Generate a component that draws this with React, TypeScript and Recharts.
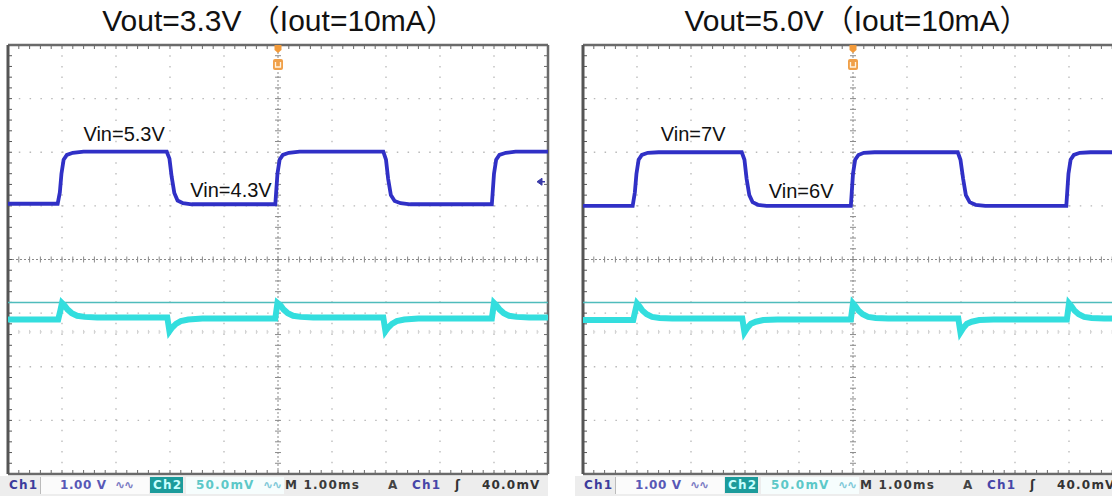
import React from 'react';
import { LineChart, Line, XAxis, YAxis, ReferenceLine, ReferenceDot } from 'recharts';

// screen divisions (10 x 8)
const divX = [0, 1, 2, 3, 4, 5, 6, 7, 8, 9, 10];
const divY = [-4, -3, -2, -1, 0, 1, 2, 3, 4];

// Ch1 (Vin step), in divisions
const ch1Left = [
  { t: 0, v: 1.04 }, { t: 0.92, v: 1.04 }, { t: 0.96, v: 1.25 }, { t: 0.99, v: 1.6 }, { t: 1.03, v: 1.86 },
  { t: 1.09, v: 1.95 }, { t: 1.2, v: 1.99 }, { t: 1.4, v: 2.01 }, { t: 2.94, v: 2.01 }, { t: 2.99, v: 1.88 },
  { t: 3.03, v: 1.55 }, { t: 3.08, v: 1.24 }, { t: 3.14, v: 1.1 }, { t: 3.24, v: 1.05 }, { t: 3.4, v: 1.03 },
  { t: 4.95, v: 1.03 }, { t: 4.99, v: 1.6 }, { t: 5.03, v: 1.86 }, { t: 5.09, v: 1.95 }, { t: 5.2, v: 1.99 },
  { t: 5.4, v: 2.01 }, { t: 6.95, v: 2.01 }, { t: 7.0, v: 1.86 }, { t: 7.04, v: 1.5 }, { t: 7.09, v: 1.2 },
  { t: 7.16, v: 1.09 }, { t: 7.27, v: 1.05 }, { t: 7.45, v: 1.03 }, { t: 8.96, v: 1.03 }, { t: 9.0, v: 1.6 },
  { t: 9.04, v: 1.86 }, { t: 9.1, v: 1.95 }, { t: 9.22, v: 1.99 }, { t: 9.4, v: 2.01 }, { t: 10, v: 2.01 },
];

// Ch2 (Vout ripple), in divisions
const ch2Left = [
  { t: 0, v: -1.12 }, { t: 0.93, v: -1.12 }, { t: 0.97, v: -0.95 }, { t: 1.0, v: -0.81 }, { t: 1.05, v: -0.86 },
  { t: 1.1, v: -0.93 }, { t: 1.18, v: -1.0 }, { t: 1.28, v: -1.05 }, { t: 1.42, v: -1.07 }, { t: 1.65, v: -1.08 },
  { t: 2.95, v: -1.08 }, { t: 2.99, v: -1.34 }, { t: 3.04, v: -1.27 }, { t: 3.11, v: -1.2 }, { t: 3.2, v: -1.15 },
  { t: 3.34, v: -1.12 }, { t: 3.6, v: -1.1 }, { t: 4.95, v: -1.1 }, { t: 4.99, v: -0.81 }, { t: 5.05, v: -0.86 },
  { t: 5.1, v: -0.93 }, { t: 5.18, v: -1.0 }, { t: 5.28, v: -1.05 }, { t: 5.42, v: -1.07 }, { t: 5.65, v: -1.08 },
  { t: 6.95, v: -1.08 }, { t: 6.99, v: -1.34 }, { t: 7.04, v: -1.27 }, { t: 7.11, v: -1.2 }, { t: 7.2, v: -1.15 },
  { t: 7.34, v: -1.12 }, { t: 7.6, v: -1.1 }, { t: 8.96, v: -1.1 }, { t: 9.0, v: -0.81 }, { t: 9.05, v: -0.86 },
  { t: 9.1, v: -0.93 }, { t: 9.18, v: -1.0 }, { t: 9.28, v: -1.05 }, { t: 9.42, v: -1.07 }, { t: 9.65, v: -1.08 },
  { t: 10, v: -1.08 },
];

const ch1Right = [
  { t: 0, v: 1.0 }, { t: 0.92, v: 1.0 }, { t: 0.96, v: 1.25 }, { t: 0.99, v: 1.6 }, { t: 1.03, v: 1.86 },
  { t: 1.09, v: 1.95 }, { t: 1.2, v: 1.99 }, { t: 1.4, v: 2.0 }, { t: 2.94, v: 2.0 }, { t: 2.99, v: 1.86 },
  { t: 3.03, v: 1.5 }, { t: 3.08, v: 1.2 }, { t: 3.14, v: 1.07 }, { t: 3.24, v: 1.02 }, { t: 3.4, v: 1.0 },
  { t: 4.96, v: 1.0 }, { t: 5.0, v: 1.6 }, { t: 5.04, v: 1.86 }, { t: 5.1, v: 1.95 }, { t: 5.2, v: 1.99 },
  { t: 5.4, v: 2.0 }, { t: 6.94, v: 2.0 }, { t: 6.99, v: 1.86 }, { t: 7.04, v: 1.5 }, { t: 7.09, v: 1.2 },
  { t: 7.16, v: 1.07 }, { t: 7.27, v: 1.02 }, { t: 7.45, v: 1.0 }, { t: 8.95, v: 1.0 }, { t: 8.99, v: 1.6 },
  { t: 9.03, v: 1.86 }, { t: 9.09, v: 1.95 }, { t: 9.2, v: 1.99 }, { t: 9.4, v: 2.0 }, { t: 10, v: 2.0 },
];

const ch2Right = [
  { t: 0, v: -1.13 }, { t: 0.93, v: -1.13 }, { t: 0.97, v: -0.95 }, { t: 1.0, v: -0.82 }, { t: 1.05, v: -0.88 },
  { t: 1.1, v: -0.95 }, { t: 1.18, v: -1.02 }, { t: 1.28, v: -1.07 }, { t: 1.42, v: -1.09 }, { t: 1.65, v: -1.1 },
  { t: 2.95, v: -1.1 }, { t: 2.99, v: -1.36 }, { t: 3.04, v: -1.28 }, { t: 3.11, v: -1.2 }, { t: 3.2, v: -1.16 },
  { t: 3.34, v: -1.13 }, { t: 3.6, v: -1.12 }, { t: 4.96, v: -1.12 }, { t: 5.0, v: -0.82 }, { t: 5.05, v: -0.88 },
  { t: 5.1, v: -0.95 }, { t: 5.18, v: -1.02 }, { t: 5.28, v: -1.07 }, { t: 5.42, v: -1.09 }, { t: 5.65, v: -1.1 },
  { t: 6.95, v: -1.1 }, { t: 6.99, v: -1.36 }, { t: 7.04, v: -1.28 }, { t: 7.11, v: -1.2 }, { t: 7.2, v: -1.16 },
  { t: 7.34, v: -1.13 }, { t: 7.6, v: -1.12 }, { t: 8.96, v: -1.12 }, { t: 9.0, v: -0.82 }, { t: 9.05, v: -0.88 },
  { t: 9.1, v: -0.95 }, { t: 9.18, v: -1.02 }, { t: 9.28, v: -1.07 }, { t: 9.42, v: -1.09 }, { t: 9.65, v: -1.1 },
  { t: 10, v: -1.1 },
];

const titles = ['Vout=3.3V （Iout=10mA）', 'Vout=5.0V（Iout=10mA）'];
const highLabels = ['Vin=5.3V', 'Vin=7V'];
const lowLabels = ['Vin=4.3V', 'Vin=6V'];
const statusTexts = ['Ch1', '1.00 V', '∿∿', 'Ch2', '50.0mV', '∿∿', 'M 1.00ms', 'A', 'Ch1', 'ʃ', '40.0mV'];
const statusX = [9, 60, 115, 153, 196, 263, 285, 388, 412, 455, 482];
const statusColors = ['#3c3c9c', '#5858b6', '#7c7cc4', '#c8ffff', '#5cc8c8', '#7fc8d8', '#3a3a3a', '#444', '#4646a8', '#333', '#333'];

const SCOPE_W = 556;
const SCOPE_H = 496;
const SHIFT = 575;

// line with minor-division tick marks
const ruler = (count: number, before: number, after: number, color: string, width: number, dash?: string) =>
  (p: any) => {
    const { x1, y1, x2, y2 } = p;
    const flat = Math.abs(y2 - y1) < 1;
    const marks: React.ReactNode[] = [];
    for (let i = 1; i < count; i++) {
      const x = x1 + ((x2 - x1) * i) / count;
      const y = y1 + ((y2 - y1) * i) / count;
      marks.push(flat
        ? <line key={i} x1={x} x2={x} y1={y - before} y2={y + after} />
        : <line key={i} x1={x - before} x2={x + after} y1={y} y2={y} />);
    }
    return (
      <g>
        <line x1={x1} y1={y1} x2={x2} y2={y2} stroke={color} strokeWidth={width} strokeDasharray={dash} />
        <g stroke={color} strokeWidth={1}>{marks}</g>
      </g>
    );
  };

const labelShape = (text: string) => (p: any) => (
  <text x={p.cx} y={p.cy} textAnchor="middle" dominantBaseline="central"
    fontFamily="'Liberation Sans', Arial, sans-serif" fontSize={20} fill="#111">{text}</text>
);

const triggerShape = (p: any) => (
  <g>
    <path d={`M${p.cx - 3.5},${p.cy} L${p.cx + 3.5},${p.cy} L${p.cx + 3.5},${p.cy + 5} L${p.cx},${p.cy + 8} L${p.cx - 3.5},${p.cy + 5} Z`} fill="#f29a3a" />
    <rect x={p.cx - 5} y={p.cy + 14} width={10} height={11} rx={2} fill="#f0a049" />
    <path d={`M${p.cx - 2.5},${p.cy + 17} L${p.cx - 2.5},${p.cy + 22} L${p.cx + 2.5},${p.cy + 22} L${p.cx + 2.5},${p.cy + 17}`} stroke="#fff3e0" strokeWidth={1.3} fill="none" />
  </g>
);

const ch1Marker = (p: any) => (
  <g fill="#3a3aa8" stroke="#3a3aa8">
    <path d={`M${p.cx - 11},${p.cy} L${p.cx - 6},${p.cy - 3.5} L${p.cx - 6},${p.cy + 3.5} Z`} />
    <line x1={p.cx - 6} x2={p.cx - 3} y1={p.cy} y2={p.cy} strokeWidth={1.5} />
  </g>
);

type ScopeProps = { ch1: { t: number; v: number }[]; ch2: { t: number; v: number }[]; hi: string; lo: string; hiAt: number[]; loAt: number[] };

const Scope = ({ ch1, ch2, hi, lo, hiAt, loAt }: ScopeProps) => (
  <LineChart width={SCOPE_W} height={SCOPE_H} margin={{ top: 45, right: 8, bottom: 22, left: 8 }}>
    <XAxis type="number" dataKey="t" domain={[0, 10]} ticks={divX} height={0} tick={false} axisLine={false} tickLine={false} allowDataOverflow />
    <YAxis type="number" domain={[-4, 4]} ticks={divY} width={0} tick={false} axisLine={false} tickLine={false} allowDataOverflow />
    {divX.filter((d) => d > 0 && d < 10 && d !== 5).map((d) => (
      <ReferenceLine key={`gx${d}`} x={d} stroke="#b8b8b8" strokeWidth={1.3} strokeDasharray="1.5 9.2" />
    ))}
    {divY.filter((d) => d > -4 && d < 4 && d !== 0).map((d) => (
      <ReferenceLine key={`gy${d}`} y={d} stroke="#b8b8b8" strokeWidth={1.3} strokeDasharray="1.5 9.3" />
    ))}
    <ReferenceLine y={-1.35} shape={ruler(50, 2, 2, '#cfcfcf', 1, '1.5 9.3')} />
    <ReferenceLine y={0} shape={ruler(50, 3, 3, '#8a8a8a', 1, '2 2')} />
    <ReferenceLine x={5} shape={ruler(40, 3, 3, '#8a8a8a', 1, '2 2')} />
    <ReferenceLine y={4} shape={ruler(50, 0, 4, '#6a6a6a', 2.5)} />
    <ReferenceLine y={-4} shape={ruler(50, 4, 0, '#6a6a6a', 2.5)} />
    <ReferenceLine x={0} shape={ruler(40, 0, 4, '#555', 3)} />
    <ReferenceLine x={10} shape={ruler(40, 4, 0, '#6a6a6a', 2.5)} />
    <ReferenceLine y={-0.8} stroke="#4fbcbc" strokeWidth={1.5} />
    <Line data={ch2} dataKey="v" type="linear" stroke="#33dede" strokeWidth={6} dot={false} isAnimationActive={false} />
    <Line data={ch1} dataKey="v" type="linear" stroke="#3030c6" strokeWidth={3.8} dot={false} isAnimationActive={false} />
    <ReferenceDot x={5} y={4} r={0} shape={triggerShape} />
    <ReferenceDot x={10} y={1.45} r={0} shape={ch1Marker} />
    <ReferenceDot x={hiAt[0]} y={hiAt[1]} r={0} shape={labelShape(hi)} />
    <ReferenceDot x={loAt[0]} y={loAt[1]} r={0} shape={labelShape(lo)} />
  </LineChart>
);

const StatusBar = () => (
  <div style={{ position: 'absolute', left: 0, top: 476, width: 548, height: 20, background: '#ededed' }}>
    <div style={{ position: 'absolute', left: 40, top: 1, width: 108, height: 17, background: '#fbfbfb', borderLeft: '1px solid #bbb' }} />
    <div style={{ position: 'absolute', left: 150, top: 1, width: 33, height: 16, background: '#1c9b9b' }} />
    <div style={{ position: 'absolute', left: 186, top: 1, width: 98, height: 17, background: '#f6fdfd' }} />
    {statusTexts.map((s, i) => (
      <span key={i} style={{
        position: 'absolute', left: statusX[i], top: 1, lineHeight: '17px', fontSize: 12, fontWeight: 'bold',
        fontFamily: "'DejaVu Sans', sans-serif", letterSpacing: i === 2 || i === 5 ? -1 : i === 1 ? 0.6 : 1.2,
        color: statusColors[i], whiteSpace: 'nowrap',
      }}>{s}</span>
    ))}
  </div>
);

const titleStyle: React.CSSProperties = {
  position: 'absolute', top: 6, width: 560, textAlign: 'center', fontSize: 30, lineHeight: '30px',
  color: '#111', whiteSpace: 'nowrap',
};

export default function App() {
  return (
    <div style={{ position: 'absolute', left: 0, top: 0, width: 1112, height: 496, overflow: 'hidden', background: '#fff' }}>
      <div style={{ position: 'absolute', left: 0, top: 0 }}>
        <Scope ch1={ch1Left} ch2={ch2Left} hi={highLabels[0]} lo={lowLabels[0]} hiAt={[2.15, 2.34]} loAt={[4.13, 1.3]} />
        <StatusBar />
      </div>
      <div style={{ position: 'absolute', left: SHIFT, top: 0 }}>
        <Scope ch1={ch1Right} ch2={ch2Right} hi={highLabels[1]} lo={lowLabels[1]} hiAt={[2.04, 2.34]} loAt={[4.04, 1.28]} />
        <StatusBar />
      </div>
      <div style={{ ...titleStyle, left: -1, fontFamily: "'Liberation Sans', Arial, 'Noto Sans CJK SC', sans-serif" }}>{titles[0]}</div>
      <div style={{ ...titleStyle, left: 577, fontFamily: "'Liberation Sans', Arial, 'Noto Sans CJK TC', sans-serif" }}>{titles[1]}</div>
    </div>
  );
}
